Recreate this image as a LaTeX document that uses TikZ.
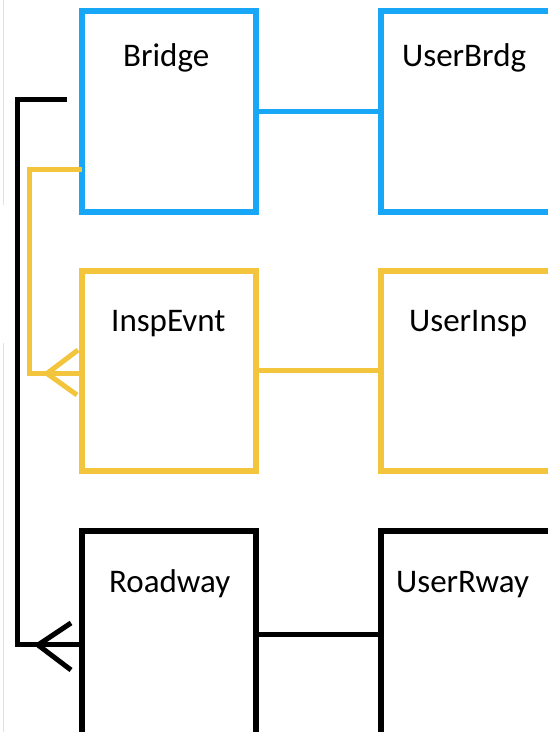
\documentclass[tikz,border=0pt]{standalone}
\usepackage{fontspec}
\setmainfont{Carlito}
\definecolor{entblue}{RGB}{24,166,247}
\definecolor{entyellow}{RGB}{242,197,61}
\definecolor{edgegray}{RGB}{225,225,225}
\begin{document}
\begin{tikzpicture}[x=1pt,y=1pt,
  entity/.style={draw, rectangle, line width=6pt, outer sep=0pt, inner sep=0pt, anchor=north west},
  title/.style={anchor=base west, inner sep=0pt, font=\fontsize{33}{38}\selectfont},
  link/.style={line width=5pt, line join=miter},
  foot/.style={line width=5pt, line cap=butt}
]
\useasboundingbox (0,0) rectangle (548,732);
\clip (0,0) rectangle (548,732);
\fill[white] (0,0) rectangle (548,732);

% faint page edge on the left
\draw[edgegray, line width=1pt] (3,732) -- (3,527);
\draw[edgegray, line width=1pt] (3,389) -- (3,0);

% entity boxes (y measured upward from the bottom)
\node[entity, draw=entblue, minimum width=174pt, minimum height=201pt] (bridge) at (82,721) {};
\node[entity, draw=entblue, minimum width=300pt, minimum height=201pt] (userbrdg) at (381,721) {};
\node[entity, draw=entyellow, minimum width=174pt, minimum height=200pt] (inspevnt) at (82,461) {};
\node[entity, draw=entyellow, minimum width=300pt, minimum height=200pt] (userinsp) at (381,461) {};
\node[entity, draw=black, minimum width=174pt, minimum height=208pt] (roadway) at (82,201) {};
\node[entity, draw=black, minimum width=300pt, minimum height=208pt] (userrway) at (381,201) {};

% titles
\node[title] (tbridge) at (123,665) {Bridge};
\node[title] (tuserbrdg) at (402,665) {UserBrdg};
\node[title] (tinspevnt) at (111,400) {InspEvnt};
\node[title] (tuserinsp) at (409,400) {UserInsp};
\node[title] (troadway) at (109,139) {Roadway};
\node[title] (tuserrway) at (396,139) {UserRway};

% one-to-one links
\draw[link, entblue] (bridge.east) -- (userbrdg.west);
\draw[link, entyellow] (inspevnt.east) -- (userinsp.west);
\draw[link, black] (roadway.east) -- (userrway.west);

% Bridge -> Roadway (one-to-many)
\coordinate (bstart) at (67,632);
\coordinate (rfoot) at (38,87);
\draw[link, black] (bstart) -- (17,632) -- (17,87) -- (roadway.west |- rfoot);
\draw[foot, black] (71,109) -- (rfoot) -- (71,62);

% Bridge -> InspEvnt (one-to-many)
\coordinate (ystart) at (bridge.west |- 0,562);
\coordinate (ifoot) at (47,358.5);
\draw[link, entyellow] (ystart) -- (29.5,562) -- (29.5,358.5) -- (inspevnt.west |- ifoot);
\draw[foot, entyellow] (78,382) -- (ifoot) -- (77,337);
\end{tikzpicture}
\end{document}
